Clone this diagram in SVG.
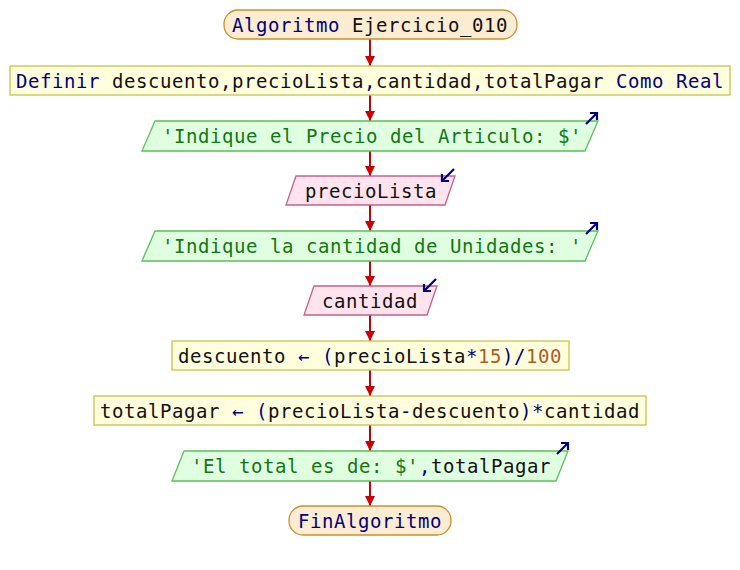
<svg xmlns="http://www.w3.org/2000/svg" width="740" height="570" viewBox="0 0 740 570">
<defs>
<style>
text{font-family:"DejaVu Sans Mono","Liberation Mono",monospace;font-size:19px;letter-spacing:0.56px;fill:#111}
.kw{fill:#000080}
.st{fill:#117711}
.nm{fill:#b05a28}
.term{fill:#fcecd2;stroke:#c8902e;stroke-width:1.3}
.proc{fill:#ffffdd;stroke:#c4c44a;stroke-width:1.3}
.out{fill:#e0ffe0;stroke:#5cbf5c;stroke-width:1.3}
.inp{fill:#ffe4ee;stroke:#c8608a;stroke-width:1.3}
.flow{stroke:#cc0000;stroke-width:2;fill:none;marker-end:url(#ah)}
.ico{stroke:#000080;stroke-width:2.2;fill:none}
</style>
<marker id="ah" viewBox="0 0 10 10" refX="10" refY="5" markerWidth="5" markerHeight="5" orient="auto" markerUnits="strokeWidth">
<path d="M0,0 L10,5 L0,10 z" fill="#cc0000"/>
</marker>
</defs>
<rect width="740" height="570" fill="#ffffff"/>
<g id="connectors">
<line class="flow" x1="370" y1="39" x2="370" y2="66"/>
<line class="flow" x1="370" y1="95" x2="370" y2="121"/>
<line class="flow" x1="370" y1="151" x2="370" y2="176"/>
<line class="flow" x1="370" y1="205" x2="370" y2="231"/>
<line class="flow" x1="370" y1="261" x2="370" y2="286"/>
<line class="flow" x1="370" y1="315" x2="370" y2="341"/>
<line class="flow" x1="370" y1="370" x2="370" y2="396"/>
<line class="flow" x1="370" y1="425" x2="370" y2="451"/>
<line class="flow" x1="370" y1="481" x2="370" y2="506"/>
</g>
<g id="start">
<rect class="term" x="224" y="10" width="293" height="29" rx="14" ry="14"/>
<text x="232" y="31.5"><tspan class="kw">Algoritmo</tspan> Ejercicio_010</text>
</g>
<g id="definir">
<rect class="proc" x="10" y="66" width="720" height="29"/>
<text x="16" y="87.5"><tspan class="kw">Definir</tspan> descuento,precioLista<tspan class="kw">,</tspan>cantidad<tspan class="kw">,</tspan>totalPagar <tspan class="kw">Como Real</tspan></text>
</g>
<g id="out1">
<polygon class="out" points="155,121 598,121 585,151 142,151"/>
<text class="st" x="162" y="143">'Indique el Precio del Articulo: $'</text>
<path class="ico" d="M586,124 L597,113 M590,113 L597,113 L597,120"/>
</g>
<g id="in1">
<polygon class="inp" points="296,176 455,176 445,205 286,205"/>
<text x="305" y="197.5">precioLista</text>
<path class="ico" d="M454,169 L442,181 M442,174 L442,181 L449,181"/>
</g>
<g id="out2">
<polygon class="out" points="155,231 598,231 585,261 142,261"/>
<text class="st" x="162" y="253">'Indique la cantidad de Unidades: '</text>
<path class="ico" d="M586,234 L597,223 M590,223 L597,223 L597,230"/>
</g>
<g id="in2">
<polygon class="inp" points="314,286 437,286 427,315 304,315"/>
<text x="322" y="307.5">cantidad</text>
<path class="ico" d="M436,279 L424,291 M424,284 L424,291 L431,291"/>
</g>
<g id="proc1">
<rect class="proc" x="172" y="341" width="397" height="29"/>
<text x="178" y="362.5">descuento <tspan class="kw">← (</tspan>precioLista<tspan class="kw">*</tspan><tspan class="nm">15</tspan><tspan class="kw">)/</tspan><tspan class="nm">100</tspan></text>
</g>
<g id="proc2">
<rect class="proc" x="94" y="396" width="552" height="29"/>
<text x="100" y="417.5">totalPagar <tspan class="kw">← (</tspan>precioLista<tspan class="kw">-</tspan>descuento<tspan class="kw">)*</tspan>cantidad</text>
</g>
<g id="out3">
<polygon class="out" points="184,451 568,451 556,481 172,481"/>
<text x="191" y="473"><tspan class="st">'El total es de: $'</tspan><tspan class="kw">,</tspan>totalPagar</text>
<path class="ico" d="M557,454 L568,443 M561,443 L568,443 L568,450"/>
</g>
<g id="end">
<rect class="term" x="289" y="506" width="162" height="29" rx="14" ry="14"/>
<text class="kw" x="298" y="527.5">FinAlgoritmo</text>
</g>
</svg>
